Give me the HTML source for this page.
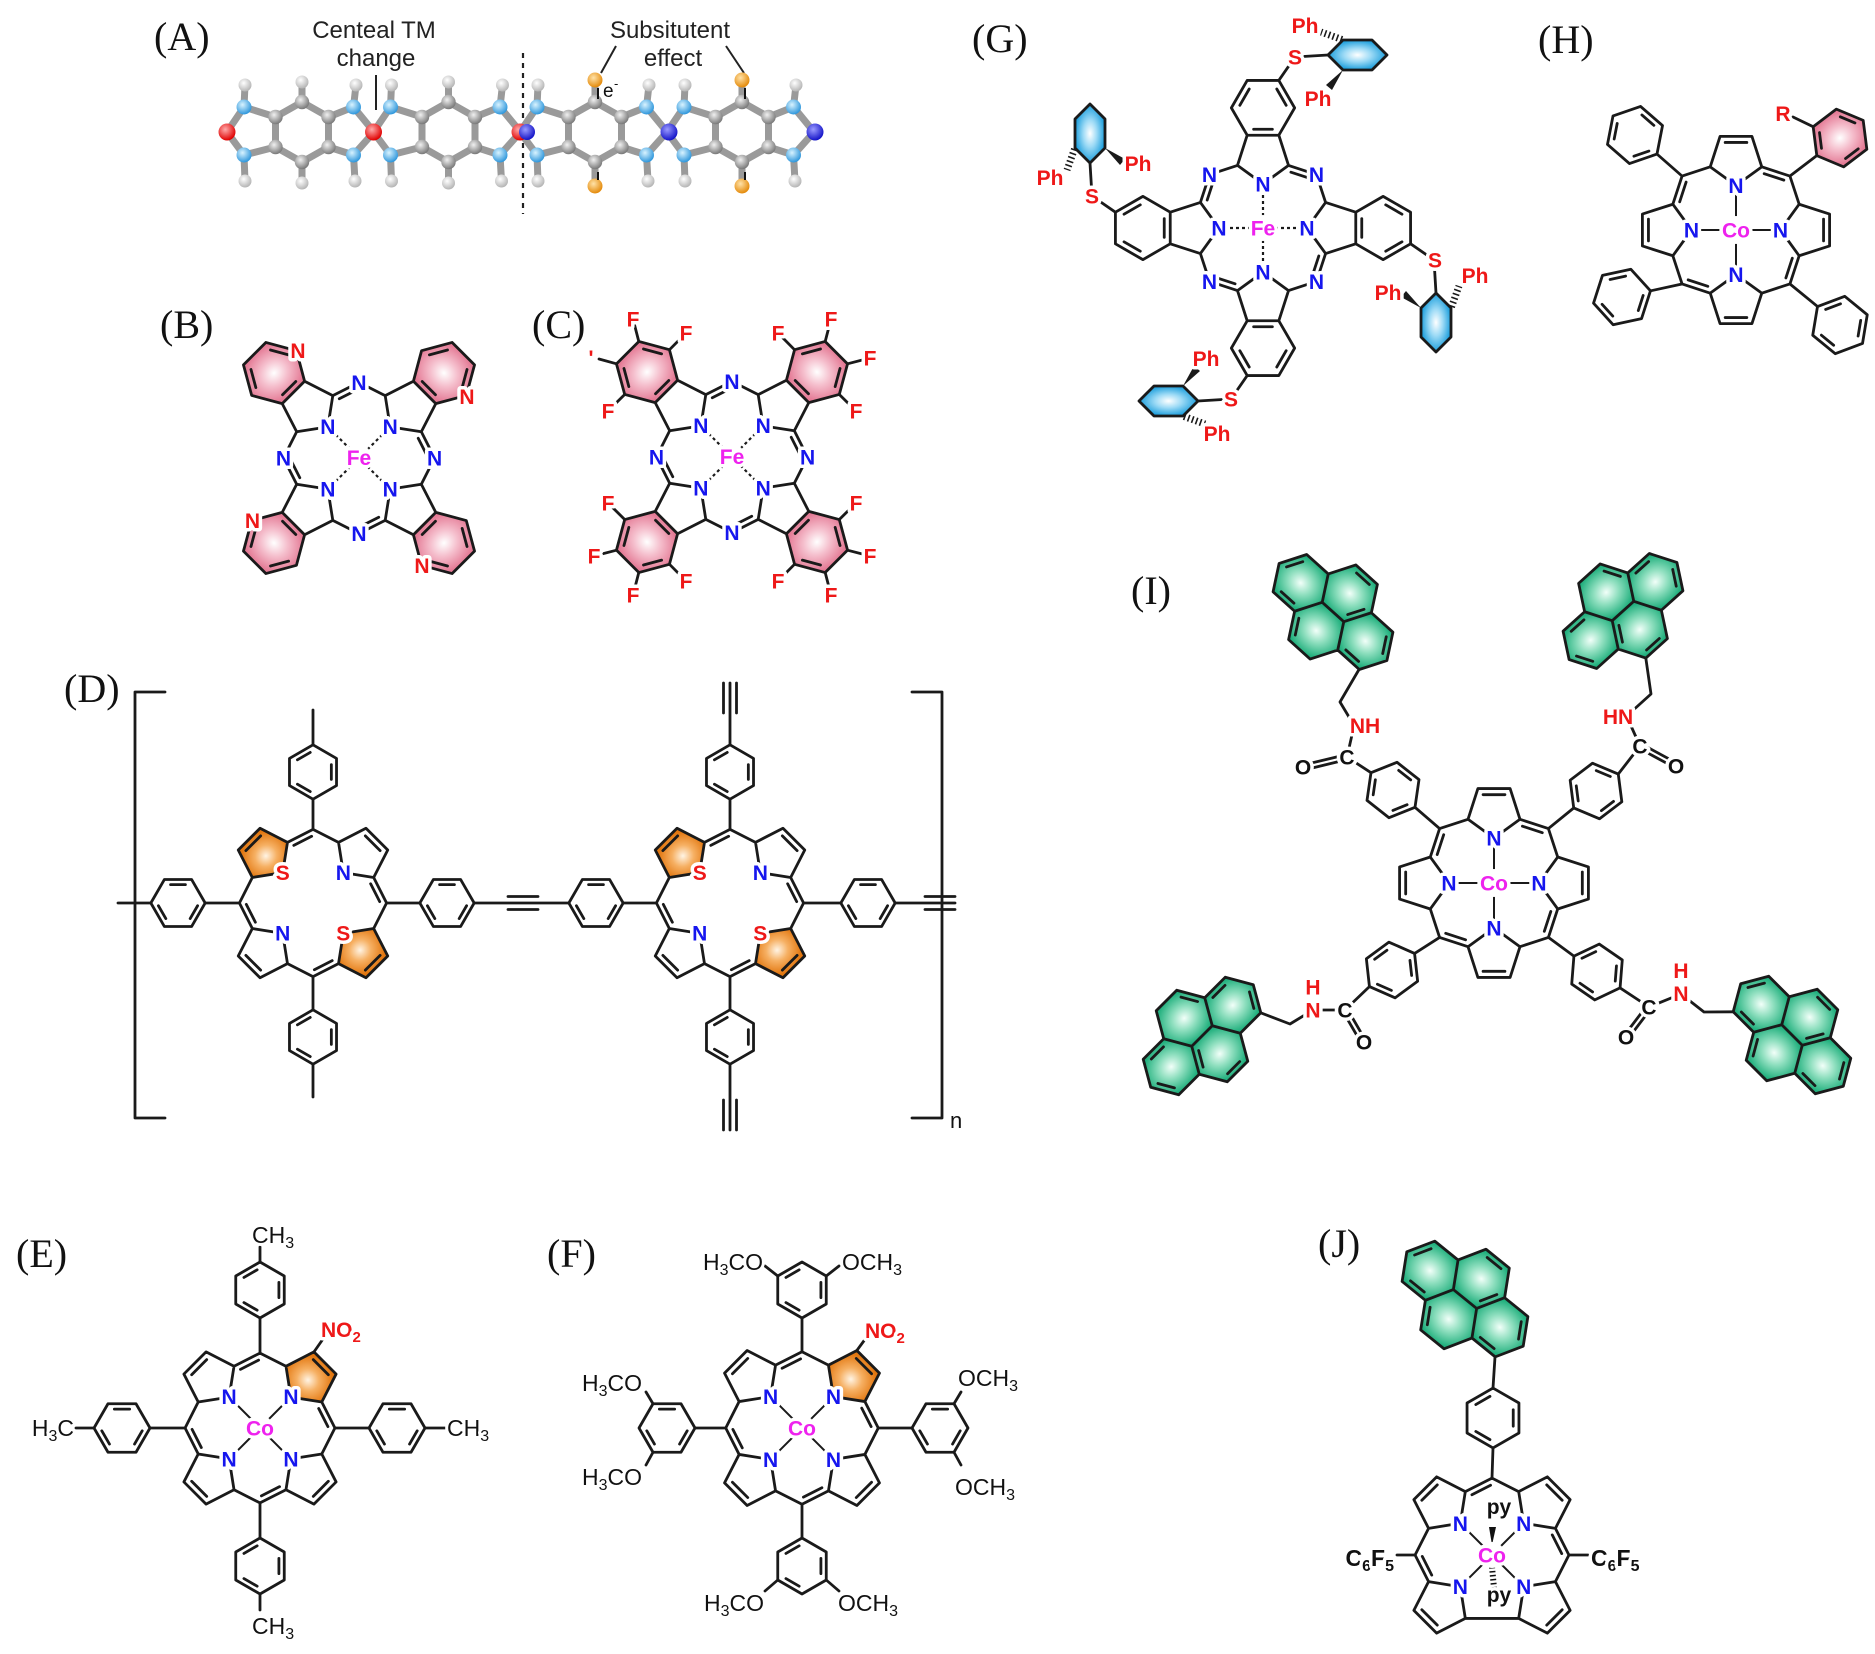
<!DOCTYPE html>
<html><head><meta charset="utf-8"><title>Molecular structures</title>
<style>
html,body{margin:0;padding:0;background:#fff}
svg{display:block}
.b{fill:none;stroke:#1a1a1a;stroke-width:2.8;stroke-linejoin:round;stroke-linecap:round;vector-effect:non-scaling-stroke}
.o{stroke:#1a1a1a;stroke-width:2.8;stroke-linejoin:round;vector-effect:non-scaling-stroke}
.b2{fill:none;stroke:#1a1a1a;stroke-width:2;stroke-linecap:round}
.ds{fill:none;stroke:#1a1a1a;stroke-width:2.2;stroke-dasharray:3 3}
.t{font-family:"Liberation Sans",Arial,sans-serif;font-weight:bold;font-size:21px;text-anchor:middle;paint-order:stroke;stroke:#fff;stroke-width:7px;stroke-linejoin:round}
.s{font-family:"Liberation Sans",Arial,sans-serif;font-size:23px;fill:#111;paint-order:stroke;stroke:#fff;stroke-width:6px;stroke-linejoin:round}
.sa{font-family:"Liberation Sans",Arial,sans-serif;font-size:24px;fill:#222;text-anchor:middle}
.lab{font-family:"Liberation Serif","Times New Roman",serif;font-size:40px;fill:#111}
.nb{fill:#1616ee}.mg{fill:#ee22ee}.rd{fill:#ee1818}.k{fill:#111}
.w{fill:#fff}
</style></head><body>
<svg xmlns="http://www.w3.org/2000/svg" width="1875" height="1654" viewBox="0 0 1875 1654">
<defs>
<radialGradient id="gPink"><stop offset="0" stop-color="#ffffff"/><stop offset="0.45" stop-color="#f5bfcd"/><stop offset="1" stop-color="#e47a95"/></radialGradient>
<radialGradient id="gBlue"><stop offset="0" stop-color="#ffffff"/><stop offset="0.45" stop-color="#9edbf6"/><stop offset="1" stop-color="#1c9edc"/></radialGradient>
<radialGradient id="gOr"><stop offset="0" stop-color="#fff4e4"/><stop offset="0.45" stop-color="#f6b063"/><stop offset="1" stop-color="#e27710"/></radialGradient>
<radialGradient id="gGr"><stop offset="0" stop-color="#f2fff9"/><stop offset="0.45" stop-color="#8fdfbf"/><stop offset="1" stop-color="#22b07e"/></radialGradient>
<radialGradient id="bC" cx="0.4" cy="0.35" r="0.65"><stop offset="0" stop-color="#f0f0f0"/><stop offset="1" stop-color="#7a7a7a"/></radialGradient>
<radialGradient id="bN" cx="0.4" cy="0.35" r="0.65"><stop offset="0" stop-color="#d8f3ff"/><stop offset="1" stop-color="#2f97dc"/></radialGradient>
<radialGradient id="bH" cx="0.4" cy="0.35" r="0.65"><stop offset="0" stop-color="#ffffff"/><stop offset="1" stop-color="#b5b5b5"/></radialGradient>
<radialGradient id="bO" cx="0.4" cy="0.35" r="0.65"><stop offset="0" stop-color="#ffaaaa"/><stop offset="1" stop-color="#e00000"/></radialGradient>
<radialGradient id="bX" cx="0.4" cy="0.35" r="0.65"><stop offset="0" stop-color="#9a9aff"/><stop offset="1" stop-color="#1414c8"/></radialGradient>
<radialGradient id="bOr" cx="0.4" cy="0.35" r="0.65"><stop offset="0" stop-color="#ffe2a8"/><stop offset="1" stop-color="#e48a0a"/></radialGradient>

<path id="por" class="b" d="M55.4,-22.6L82.1,-14L82.1,14L55.4,22.6L47.3,47.3L22.6,55.4L14,82.1L-14,82.1L-22.6,55.4L-47.3,47.3L-55.4,22.6L-82.1,14L-82.1,-14L-55.4,-22.6L-47.3,-47.3L-22.6,-55.4L-14,-82.1L14,-82.1L22.6,-55.4L47.3,-47.3Z M55.4,-22.6L39,0L55.4,22.6 M22.6,55.4L0,39L-22.6,55.4 M-55.4,22.6L-39,0L-55.4,-22.6 M-22.6,-55.4L0,-39L22.6,-55.4 M76.8,-9.5L76.8,9.5 M9.5,76.8L-9.5,76.8 M-76.8,9.5L-76.8,-9.5 M-9.5,-76.8L9.5,-76.8 M49.4,24.7L43.75,42 M-24.7,49.4L-42,43.75 M-49.4,-24.7L-43.75,-42 M24.7,-49.4L42,-43.75"/>

<path id="cor" class="b" d="M55.4,-22.6L82.1,-14L82.1,14L55.4,22.6L22.6,55.4L14,82.1L-14,82.1L-22.6,55.4L-47.3,47.3L-55.4,22.6L-82.1,14L-82.1,-14L-55.4,-22.6L-47.3,-47.3L-22.6,-55.4L-14,-82.1L14,-82.1L22.6,-55.4L47.3,-47.3Z M55.4,-22.6L39,0L55.4,22.6 M22.6,55.4L0,39L-22.6,55.4 M-55.4,22.6L-39,0L-55.4,-22.6 M-22.6,-55.4L0,-39L22.6,-55.4 M76.8,-9.5L76.8,9.5 M9.5,76.8L-9.5,76.8 M-76.8,9.5L-76.8,-9.5 M-9.5,-76.8L9.5,-76.8 M-24.7,49.4L-42,43.75 M-49.4,-24.7L-43.75,-42 M24.7,-49.4L42,-43.75"/>

<path id="pc" class="b" d="M55.4,-22.6L82.1,-14L82.1,14L55.4,22.6L47.3,47.3L22.6,55.4L14,82.1L-14,82.1L-22.6,55.4L-47.3,47.3L-55.4,22.6L-82.1,14L-82.1,-14L-55.4,-22.6L-47.3,-47.3L-22.6,-55.4L-14,-82.1L14,-82.1L22.6,-55.4L47.3,-47.3Z M55.4,-22.6L39,0L55.4,22.6 M22.6,55.4L0,39L-22.6,55.4 M-55.4,22.6L-39,0L-55.4,-22.6 M-22.6,-55.4L0,-39L22.6,-55.4 M49.4,24.7L43.75,42 M-24.7,49.4L-42,43.75 M-49.4,-24.7L-43.75,-42 M24.7,-49.4L42,-43.75 M82.1,14L106.3,28L130.6,14L130.6,-14L106.3,-28L82.1,-14 M108.6,20.5L123,12.2 M123,-12.2L108.6,-20.5 M87.4,8.3L87.4,-8.3 M-14,82.1L-28,106.3L-14,130.6L14,130.6L28,106.3L14,82.1 M-20.5,108.6L-12.2,123 M12.2,123L20.5,108.6 M-8.3,87.4L8.3,87.4 M-82.1,-14L-106.3,-28L-130.6,-14L-130.6,14L-106.3,28L-82.1,14 M-108.6,-20.5L-123,-12.2 M-123,12.2L-108.6,20.5 M-87.4,-8.3L-87.4,8.3 M14,-82.1L28,-106.3L14,-130.6L-14,-130.6L-28,-106.3L-14,-82.1 M20.5,-108.6L12.2,-123 M-12.2,-123L-20.5,-108.6 M8.3,-87.4L-8.3,-87.4"/>

<g id="pchex">
<polygon fill="url(#gPink)" points="82.1,14 106.3,28 130.6,14 130.6,-14 106.3,-28 82.1,-14"/>
<polygon fill="url(#gPink)" points="-14,82.1 -28,106.3 -14,130.6 14,130.6 28,106.3 14,82.1"/>
<polygon fill="url(#gPink)" points="-82.1,-14 -106.3,-28 -130.6,-14 -130.6,14 -106.3,28 -82.1,14"/>
<polygon fill="url(#gPink)" points="14,-82.1 28,-106.3 14,-130.6 -14,-130.6 -28,-106.3 -14,-82.1"/>
</g>

<path id="ph" class="b" d="M28,0L14,24.25L-14,24.25L-28,0L-14,-24.25L14,-24.25Z M20.2,2.84L12.56,16.07 M-12.56,16.07L-20.2,2.84 M-7.64,-18.91L7.64,-18.91"/>

<g id="pyr">
<polygon fill="url(#gGr)" points="-24.25,-28 0,-14 0,14 -24.25,28 -48.5,14 -48.5,-14"/>
<polygon fill="url(#gGr)" points="24.25,-28 48.5,-14 48.5,14 24.25,28 0,14 0,-14"/>
<polygon fill="url(#gGr)" points="0,-70 24.25,-56 24.25,-28 0,-14 -24.25,-28 -24.25,-56"/>
<polygon fill="url(#gGr)" points="0,14 24.25,28 24.25,56 0,70 -24.25,56 -24.25,28"/>
<path class="b" d="M0,-70L24.25,-56L24.25,-28L48.5,-14L48.5,14L24.25,28L24.25,56L0,70L-24.25,56L-24.25,28L-48.5,14L-48.5,-14L-24.25,-28L-24.25,-56Z M-24.25,-28L0,-14L24.25,-28 M0,-14L0,14 M-24.25,28L0,14L24.25,28 M2.3,-62.5L16.6,-54.2 M-18.9,-50.3L-18.9,-33.7 M43.2,-8.3L43.2,8.3 M16.6,54.2L2.3,62.5 M-18.9,33.7L-18.9,50.3 M-40.9,-12.2L-26.5,-20.5 M22,20.5L7.6,12.2"/>
</g>

<g id="gmot">
<path class="b" d="M15.8,-147.6L32,-171L65,-173"/>
<polygon fill="url(#gBlue)" class="o" points="65,-173 80,-188 109,-188 124,-173 109,-158 80,-158"/>
<path d="M79,-188.5L58,-196" stroke="#1a1a1a" stroke-width="7" stroke-dasharray="1.6 2.6" fill="none"/>
<polygon points="80,-158 63,-143 69,-138" fill="#1a1a1a"/>
</g>
</defs>

<rect x="0" y="0" width="1875" height="1654" fill="#fff"/>

<!-- ================= (A) ================= -->
<text class="lab" x="154" y="50">(A)</text>
<text class="sa" x="374" y="38">Centeal TM</text>
<text class="sa" x="376" y="66">change</text>
<text class="sa" x="670" y="38">Subsitutent</text>
<text class="sa" x="673" y="66">effect</text>
<path d="M376,75L376,110 M616,46L601,73 M726,46L744,73" stroke="#222" stroke-width="2" fill="none"/>
<path d="M523,53L523,214" stroke="#222" stroke-width="2.2" stroke-dasharray="5 5" fill="none"/>
<g fill="none" stroke-linecap="round" stroke-linejoin="round">
<path stroke="#9a9a9a" stroke-width="7" d="M227,132L244,107L275.5,117L302,102L328.5,117L353.5,107L374,132L353.5,155L328.5,147L302,162L275.5,147L244,155Z M275.5,117L275.5,147 M328.5,117L328.5,147 M244,107L245,85 M244,155L245,181 M302,102L302,82 M302,162L302,183 M353.5,107L356,85 M353.5,155L355,181 M373.5,132L390.5,107L422,117L448.5,102L475,117L500,107L520.5,132L500,155L475,147L448.5,162L422,147L390.5,155Z M422,117L422,147 M475,117L475,147 M390.5,107L391.5,85 M390.5,155L391.5,181 M448.5,102L448.5,82 M448.5,162L448.5,183 M500,107L502.5,85 M500,155L501.5,181 M520,132L537,107L568.5,117L595,102L621.5,117L646.5,107L667,132L646.5,155L621.5,147L595,162L568.5,147L537,155Z M568.5,117L568.5,147 M621.5,117L621.5,147 M537,107L538,85 M537,155L538,181 M595,102L595,80 M595,162L595,186 M646.5,107L649,85 M646.5,155L648,181 M667,132L684,107L715.5,117L742,102L768.5,117L793.5,107L814,132L793.5,155L768.5,147L742,162L715.5,147L684,155Z M715.5,117L715.5,147 M768.5,117L768.5,147 M684,107L685,85 M684,155L685,181 M742,102L742,80 M742,162L742,186 M793.5,107L796,85 M793.5,155L795,181"/>
</g>
<g>
<circle cx="227" cy="132" r="8.5" fill="url(#bO)"/>
<circle cx="373.5" cy="132" r="8.5" fill="url(#bO)"/>
<circle cx="520" cy="132" r="8.5" fill="url(#bO)"/>
<circle cx="527" cy="132" r="8" fill="url(#bX)"/>
<circle cx="669" cy="132" r="8.5" fill="url(#bX)"/>
<circle cx="815" cy="132" r="8.5" fill="url(#bX)"/>
<circle cx="244" cy="107" r="7.5" fill="url(#bN)"/><circle cx="244" cy="155" r="7.5" fill="url(#bN)"/><circle cx="353.5" cy="107" r="7.5" fill="url(#bN)"/><circle cx="353.5" cy="155" r="7.5" fill="url(#bN)"/>
<circle cx="390.5" cy="107" r="7.5" fill="url(#bN)"/><circle cx="390.5" cy="155" r="7.5" fill="url(#bN)"/><circle cx="500" cy="107" r="7.5" fill="url(#bN)"/><circle cx="500" cy="155" r="7.5" fill="url(#bN)"/>
<circle cx="537" cy="107" r="7.5" fill="url(#bN)"/><circle cx="537" cy="155" r="7.5" fill="url(#bN)"/><circle cx="646.5" cy="107" r="7.5" fill="url(#bN)"/><circle cx="646.5" cy="155" r="7.5" fill="url(#bN)"/>
<circle cx="684" cy="107" r="7.5" fill="url(#bN)"/><circle cx="684" cy="155" r="7.5" fill="url(#bN)"/><circle cx="793.5" cy="107" r="7.5" fill="url(#bN)"/><circle cx="793.5" cy="155" r="7.5" fill="url(#bN)"/>
<circle cx="275.5" cy="117" r="7.2" fill="url(#bC)"/><circle cx="275.5" cy="147" r="7.2" fill="url(#bC)"/><circle cx="302" cy="102" r="7.2" fill="url(#bC)"/><circle cx="302" cy="162" r="7.2" fill="url(#bC)"/><circle cx="328.5" cy="117" r="7.2" fill="url(#bC)"/><circle cx="328.5" cy="147" r="7.2" fill="url(#bC)"/>
<circle cx="422" cy="117" r="7.2" fill="url(#bC)"/><circle cx="422" cy="147" r="7.2" fill="url(#bC)"/><circle cx="448.5" cy="102" r="7.2" fill="url(#bC)"/><circle cx="448.5" cy="162" r="7.2" fill="url(#bC)"/><circle cx="475" cy="117" r="7.2" fill="url(#bC)"/><circle cx="475" cy="147" r="7.2" fill="url(#bC)"/>
<circle cx="568.5" cy="117" r="7.2" fill="url(#bC)"/><circle cx="568.5" cy="147" r="7.2" fill="url(#bC)"/><circle cx="595" cy="102" r="7.2" fill="url(#bC)"/><circle cx="595" cy="162" r="7.2" fill="url(#bC)"/><circle cx="621.5" cy="117" r="7.2" fill="url(#bC)"/><circle cx="621.5" cy="147" r="7.2" fill="url(#bC)"/>
<circle cx="715.5" cy="117" r="7.2" fill="url(#bC)"/><circle cx="715.5" cy="147" r="7.2" fill="url(#bC)"/><circle cx="742" cy="102" r="7.2" fill="url(#bC)"/><circle cx="742" cy="162" r="7.2" fill="url(#bC)"/><circle cx="768.5" cy="117" r="7.2" fill="url(#bC)"/><circle cx="768.5" cy="147" r="7.2" fill="url(#bC)"/>
<circle cx="245" cy="85" r="6.5" fill="url(#bH)"/><circle cx="245" cy="181" r="6.5" fill="url(#bH)"/><circle cx="302" cy="82" r="6.5" fill="url(#bH)"/><circle cx="302" cy="183" r="6.5" fill="url(#bH)"/><circle cx="356" cy="85" r="6.5" fill="url(#bH)"/><circle cx="355" cy="181" r="6.5" fill="url(#bH)"/>
<circle cx="391.5" cy="85" r="6.5" fill="url(#bH)"/><circle cx="391.5" cy="181" r="6.5" fill="url(#bH)"/><circle cx="448.5" cy="82" r="6.5" fill="url(#bH)"/><circle cx="448.5" cy="183" r="6.5" fill="url(#bH)"/><circle cx="502.5" cy="85" r="6.5" fill="url(#bH)"/><circle cx="501.5" cy="181" r="6.5" fill="url(#bH)"/>
<circle cx="538" cy="85" r="6.5" fill="url(#bH)"/><circle cx="538" cy="181" r="6.5" fill="url(#bH)"/><circle cx="649" cy="85" r="6.5" fill="url(#bH)"/><circle cx="648" cy="181" r="6.5" fill="url(#bH)"/>
<circle cx="685" cy="85" r="6.5" fill="url(#bH)"/><circle cx="685" cy="181" r="6.5" fill="url(#bH)"/><circle cx="796" cy="85" r="6.5" fill="url(#bH)"/><circle cx="795" cy="181" r="6.5" fill="url(#bH)"/>
<circle cx="595" cy="80" r="7.5" fill="url(#bOr)"/><circle cx="595" cy="186" r="7.5" fill="url(#bOr)"/><circle cx="742" cy="80" r="7.5" fill="url(#bOr)"/><circle cx="742" cy="186" r="7.5" fill="url(#bOr)"/>
</g>
<path d="M598,88L598,99 M598,172L598,180 M745,88L745,99 M745,172L745,180" stroke="#111" stroke-width="2" fill="none"/>
<text x="603" y="97" style="font-family:'Liberation Sans',Arial,sans-serif;font-size:19px;fill:#111">e</text>
<text x="614" y="88" style="font-family:'Liberation Sans',Arial,sans-serif;font-size:13px;fill:#111">-</text>

<!-- ================= (B) ================= -->
<text class="lab" x="160" y="338">(B)</text>
<g transform="translate(359,458) rotate(45) scale(1.13)"><use href="#pchex"/><use href="#pc"/></g>
<path class="ds" d="M359,458L327.8,426.8 M359,458L390.2,426.8 M359,458L327.8,489.2 M359,458L390.2,489.2"/>
<g>
<circle class="w" cx="327.8" cy="426.8" r="9"/><circle class="w" cx="390.2" cy="426.8" r="9"/><circle class="w" cx="327.8" cy="489.2" r="9"/><circle class="w" cx="390.2" cy="489.2" r="9"/>
<circle class="w" cx="359" cy="382.4" r="9"/><circle class="w" cx="283.4" cy="458" r="9"/><circle class="w" cx="434.6" cy="458" r="9"/><circle class="w" cx="359" cy="533.6" r="9"/>
<circle class="w" cx="359" cy="458" r="13"/>
<text class="t mg" x="359" y="465">Fe</text>
<text class="t nb" x="327.8" y="434">N</text><text class="t nb" x="390.2" y="434">N</text><text class="t nb" x="327.8" y="496.5">N</text><text class="t nb" x="390.2" y="496.5">N</text>
<text class="t nb" x="359" y="390">N</text><text class="t nb" x="283.4" y="465.5">N</text><text class="t nb" x="434.6" y="465.5">N</text><text class="t nb" x="359" y="541">N</text>
<text class="t rd" x="298" y="358">N</text><text class="t rd" x="467" y="404">N</text><text class="t rd" x="252.5" y="528">N</text><text class="t rd" x="422" y="573">N</text>
</g>

<!-- ================= (C) ================= -->
<text class="lab" x="532" y="338">(C)</text>
<g transform="translate(732,457) rotate(45) scale(1.13)"><use href="#pchex"/><use href="#pc"/></g>
<g transform="translate(732,457)">
<path class="b" d="M62.6,107.2L46,124 M93.2,115.5L99,138 M115.5,93.2L138,99 M107.2,62.6L124,46 M-107.2,62.6L-124,46 M-115.5,93.2L-138,99 M-93.2,115.5L-99,138 M-62.6,107.2L-46,124 M-62.6,-107.2L-46,-124 M-93.2,-115.5L-99,-138 M-115.5,-93.2L-133,-98 M-107.2,-62.6L-124,-46 M107.2,-62.6L124,-46 M115.5,-93.2L138,-99 M93.2,-115.5L99,-138 M62.6,-107.2L46,-124"/>
<path class="ds" d="M0,0L-31.2,-31.2 M0,0L31.2,-31.2 M0,0L-31.2,31.2 M0,0L31.2,31.2"/>
<circle class="w" cx="-31.2" cy="-31.2" r="9"/><circle class="w" cx="31.2" cy="-31.2" r="9"/><circle class="w" cx="-31.2" cy="31.2" r="9"/><circle class="w" cx="31.2" cy="31.2" r="9"/>
<circle class="w" cx="0" cy="-75.6" r="9"/><circle class="w" cx="-75.6" cy="0" r="9"/><circle class="w" cx="75.6" cy="0" r="9"/><circle class="w" cx="0" cy="75.6" r="9"/>
<circle class="w" cx="0" cy="0" r="13"/>
<text class="t mg" x="0" y="7">Fe</text>
<text class="t nb" x="-31.2" y="-24">N</text><text class="t nb" x="31.2" y="-24">N</text><text class="t nb" x="-31.2" y="38.5">N</text><text class="t nb" x="31.2" y="38.5">N</text>
<text class="t nb" x="0" y="-68">N</text><text class="t nb" x="-75.6" y="7.5">N</text><text class="t nb" x="75.6" y="7.5">N</text><text class="t nb" x="0" y="83">N</text>
<text class="t rd" x="46" y="131.5">F</text><text class="t rd" x="99" y="145.5">F</text><text class="t rd" x="138" y="106.5">F</text><text class="t rd" x="124" y="53.5">F</text>
<text class="t rd" x="-124" y="53.5">F</text><text class="t rd" x="-138" y="106.5">F</text><text class="t rd" x="-99" y="145.5">F</text><text class="t rd" x="-46" y="131.5">F</text>
<text class="t rd" x="-46" y="-116.5">F</text><text class="t rd" x="-99" y="-130.5">F</text><text class="t rd" x="-141" y="-92">'</text><text class="t rd" x="-124" y="-38.5">F</text>
<text class="t rd" x="124" y="-38.5">F</text><text class="t rd" x="138" y="-91.5">F</text><text class="t rd" x="99" y="-130.5">F</text><text class="t rd" x="46" y="-116.5">F</text>
</g>

<!-- ================= (D) ================= -->
<text class="lab" x="64" y="702">(D)</text>
<g transform="translate(313,903) rotate(45) scale(1.1)">
<polygon fill="url(#gOr)" points="-39,0 -55.4,-22.6 -82.1,-14 -82.1,14 -55.4,22.6"/>
<polygon fill="url(#gOr)" points="39,0 55.4,22.6 82.1,14 82.1,-14 55.4,-22.6"/>
<use href="#por"/></g>
<g transform="translate(730,903) rotate(45) scale(1.1)">
<polygon fill="url(#gOr)" points="-39,0 -55.4,-22.6 -82.1,-14 -82.1,14 -55.4,22.6"/>
<polygon fill="url(#gOr)" points="39,0 55.4,22.6 82.1,14 82.1,-14 55.4,-22.6"/>
<use href="#por"/></g>
<use href="#ph" transform="translate(178,903) scale(0.97)"/>
<use href="#ph" transform="translate(447,903) scale(0.97)"/>
<use href="#ph" transform="translate(313,772) rotate(90) scale(0.97)"/>
<use href="#ph" transform="translate(313,1037) rotate(90) scale(0.97)"/>
<use href="#ph" transform="translate(596,903) scale(0.97)"/>
<use href="#ph" transform="translate(868,903) scale(0.97)"/>
<use href="#ph" transform="translate(730,772) rotate(90) scale(0.97)"/>
<use href="#ph" transform="translate(730,1037) rotate(90) scale(0.97)"/>
<path class="b" d="M118,903L151,903 M205,903L239.4,903 M386.6,903L420,903 M474,903L538,903 M508,896.5L538,896.5 M508,909.5L538,909.5 M538,903L569,903 M623,903L656.4,903 M803.6,903L841,903 M895,903L955,903 M925,896.5L955,896.5 M925,909.5L955,909.5 M313,829.4L313,799 M313,745L313,710 M313,976.6L313,1010 M313,1064L313,1097 M730,829.4L730,799 M730,745L730,683 M723.5,713L723.5,683 M736.5,713L736.5,683 M730,976.6L730,1010 M730,1064L730,1130 M723.5,1100L723.5,1130 M736.5,1100L736.5,1130 M165,692L135,692L135,1118L165,1118 M912,692L942,692L942,1118L912,1118"/>
<text x="950" y="1128" style="font-family:'Liberation Sans',Arial,sans-serif;font-size:22px;fill:#111">n</text>
<g>
<circle class="w" cx="282.7" cy="872.7" r="8"/><circle class="w" cx="343.3" cy="933.3" r="8"/><circle class="w" cx="343.3" cy="872.7" r="8"/><circle class="w" cx="282.7" cy="933.3" r="8"/>
<circle class="w" cx="699.7" cy="872.7" r="8"/><circle class="w" cx="760.3" cy="933.3" r="8"/><circle class="w" cx="760.3" cy="872.7" r="8"/><circle class="w" cx="699.7" cy="933.3" r="8"/>
<text class="t rd" x="282.7" y="880">S</text><text class="t rd" x="343.3" y="940.5">S</text><text class="t nb" x="343.3" y="880">N</text><text class="t nb" x="282.7" y="940.5">N</text>
<text class="t rd" x="699.7" y="880">S</text><text class="t rd" x="760.3" y="940.5">S</text><text class="t nb" x="760.3" y="880">N</text><text class="t nb" x="699.7" y="940.5">N</text>
</g>

<!-- ================= (E) ================= -->
<text class="lab" x="16" y="1267">(E)</text>
<g transform="translate(260,1428) rotate(45) scale(1.12)">
<polygon fill="url(#gOr)" points="0,-39 22.6,-55.4 14,-82.1 -14,-82.1 -22.6,-55.4"/>
<use href="#por"/></g>
<use href="#ph" transform="translate(260,1290) rotate(90)"/>
<use href="#ph" transform="translate(260,1566) rotate(90)"/>
<use href="#ph" transform="translate(122,1428)"/>
<use href="#ph" transform="translate(397,1428)"/>
<path class="b" d="M260,1353L260,1318 M260,1262L260,1247 M260,1503L260,1538 M260,1594L260,1610 M185,1428L150,1428 M94,1428L76,1428 M335,1428L369,1428 M425,1428L445,1428 M313.9,1352L323,1339"/>
<path class="b2" d="M229.1,1396.9L290.9,1459.1 M290.9,1396.9L229.1,1459.1"/>
<g>
<circle class="w" cx="229.1" cy="1396.9" r="9"/><circle class="w" cx="290.9" cy="1396.9" r="9"/><circle class="w" cx="229.1" cy="1459.1" r="9"/><circle class="w" cx="290.9" cy="1459.1" r="9"/><circle class="w" cx="260" cy="1428" r="13"/>
<text class="t nb" x="229.1" y="1404">N</text><text class="t nb" x="290.9" y="1404">N</text><text class="t nb" x="229.1" y="1466.5">N</text><text class="t nb" x="290.9" y="1466.5">N</text>
<text class="t mg" x="260" y="1435.5">Co</text>
<text class="t rd" x="321" y="1337" style="text-anchor:start">NO<tspan font-size="15" dy="5">2</tspan></text>
<text class="s" x="252" y="1243">CH<tspan font-size="16" dy="5">3</tspan></text>
<text class="s" x="252" y="1634">CH<tspan font-size="16" dy="5">3</tspan></text>
<text class="s" x="74" y="1436" text-anchor="end">H<tspan font-size="16" dy="5">3</tspan><tspan dy="-5">C</tspan></text>
<text class="s" x="447" y="1436">CH<tspan font-size="16" dy="5">3</tspan></text>
</g>

<!-- ================= (F) ================= -->
<text class="lab" x="547" y="1267">(F)</text>
<g transform="translate(802,1428) rotate(45) scale(1.14)">
<polygon fill="url(#gOr)" points="0,-39 22.6,-55.4 14,-82.1 -14,-82.1 -22.6,-55.4"/>
<use href="#por"/></g>
<use href="#ph" transform="translate(802,1290) rotate(90)"/>
<use href="#ph" transform="translate(802,1566) rotate(90)"/>
<use href="#ph" transform="translate(667,1428)"/>
<use href="#ph" transform="translate(940,1428)"/>
<path class="b" d="M802,1351.7L802,1318 M802,1504.3L802,1538 M725.7,1428L695,1428 M878.3,1428L912,1428 M777.75,1276L765,1266 M826.25,1276L839,1266 M653,1403.75L646,1392 M653,1452.25L646,1465 M954,1403.75L961,1392 M954,1452.25L961,1465 M777.75,1580L765,1591 M826.25,1580L839,1591 M856.8,1350.6L866,1338"/>
<path class="b2" d="M770.6,1396.6L833.4,1459.4 M833.4,1396.6L770.6,1459.4"/>
<g>
<circle class="w" cx="770.6" cy="1396.6" r="9"/><circle class="w" cx="833.4" cy="1396.6" r="9"/><circle class="w" cx="770.6" cy="1459.4" r="9"/><circle class="w" cx="833.4" cy="1459.4" r="9"/><circle class="w" cx="802" cy="1428" r="13"/>
<text class="t nb" x="770.6" y="1404">N</text><text class="t nb" x="833.4" y="1404">N</text><text class="t nb" x="770.6" y="1467">N</text><text class="t nb" x="833.4" y="1467">N</text>
<text class="t mg" x="802" y="1435.5">Co</text>
<text class="t rd" x="865" y="1338" style="text-anchor:start">NO<tspan font-size="15" dy="5">2</tspan></text>
<text class="s" x="763" y="1270" text-anchor="end">H<tspan font-size="16" dy="5">3</tspan><tspan dy="-5">CO</tspan></text>
<text class="s" x="842" y="1270">OCH<tspan font-size="16" dy="5">3</tspan></text>
<text class="s" x="642" y="1391" text-anchor="end">H<tspan font-size="16" dy="5">3</tspan><tspan dy="-5">CO</tspan></text>
<text class="s" x="642" y="1485" text-anchor="end">H<tspan font-size="16" dy="5">3</tspan><tspan dy="-5">CO</tspan></text>
<text class="s" x="958" y="1386">OCH<tspan font-size="16" dy="5">3</tspan></text>
<text class="s" x="955" y="1495">OCH<tspan font-size="16" dy="5">3</tspan></text>
<text class="s" x="764" y="1611" text-anchor="end">H<tspan font-size="16" dy="5">3</tspan><tspan dy="-5">CO</tspan></text>
<text class="s" x="838" y="1611">OCH<tspan font-size="16" dy="5">3</tspan></text>
</g>

<!-- ================= (G) ================= -->
<text class="lab" x="972" y="52">(G)</text>
<g transform="translate(1263,228) scale(1.13)"><use href="#pc"/></g>
<use href="#gmot" transform="translate(1263,228)"/>
<use href="#gmot" transform="translate(1263,228) rotate(90)"/>
<use href="#gmot" transform="translate(1263,228) rotate(180)"/>
<use href="#gmot" transform="translate(1263,228) rotate(-90)"/>
<path class="ds" d="M1263,228L1263,184 M1263,228L1219,228 M1263,228L1307,228 M1263,228L1263,272"/>
<g>
<circle class="w" cx="1263" cy="184" r="9"/><circle class="w" cx="1219" cy="228" r="9"/><circle class="w" cx="1307" cy="228" r="9"/><circle class="w" cx="1263" cy="272" r="9"/>
<circle class="w" cx="1209.5" cy="174.5" r="9"/><circle class="w" cx="1316.5" cy="174.5" r="9"/><circle class="w" cx="1209.5" cy="281.5" r="9"/><circle class="w" cx="1316.5" cy="281.5" r="9"/>
<circle class="w" cx="1263" cy="228" r="13"/>
<text class="t mg" x="1263" y="235.5">Fe</text>
<text class="t nb" x="1263" y="191.5">N</text><text class="t nb" x="1219" y="235.5">N</text><text class="t nb" x="1307" y="235.5">N</text><text class="t nb" x="1263" y="279.5">N</text>
<text class="t nb" x="1209.5" y="182">N</text><text class="t nb" x="1316.5" y="182">N</text><text class="t nb" x="1209.5" y="289">N</text><text class="t nb" x="1316.5" y="289">N</text>
<circle class="w" cx="1295" cy="57" r="8"/><circle class="w" cx="1435" cy="260" r="8"/><circle class="w" cx="1231" cy="399" r="8"/><circle class="w" cx="1092" cy="196" r="8"/>
<text class="t rd" x="1295" y="64.5">S</text><text class="t rd" x="1435" y="267.5">S</text><text class="t rd" x="1231" y="406.5">S</text><text class="t rd" x="1092" y="203.5">S</text>
<text class="t rd" x="1305" y="33">Ph</text><text class="t rd" x="1318" y="106">Ph</text>
<text class="t rd" x="1475" y="283">Ph</text><text class="t rd" x="1388" y="300">Ph</text>
<text class="t rd" x="1217" y="441">Ph</text><text class="t rd" x="1206" y="366">Ph</text>
<text class="t rd" x="1050" y="185">Ph</text><text class="t rd" x="1138" y="171">Ph</text>
</g>

<!-- ================= (H) ================= -->
<text class="lab" x="1538" y="53">(H)</text>
<use href="#por" transform="translate(1736,230) scale(1.14)"/>
<polygon fill="url(#gPink)" transform="translate(1840,138) rotate(142.8) scale(1.04)" points="28,0 14,24.25 -14,24.25 -28,0 -14,-24.25 14,-24.25"/>
<use href="#ph" transform="translate(1635,135) rotate(41) scale(1.04)"/>
<use href="#ph" transform="translate(1840,138) rotate(142.8) scale(1.04)"/>
<use href="#ph" transform="translate(1622,297) rotate(-12.2) scale(1.04)"/>
<use href="#ph" transform="translate(1840,325) rotate(-140.6) scale(1.04)"/>
<path class="b" d="M1682,176L1656.9,154 M1790,176L1816.9,155.5 M1682,284L1650.3,290.9 M1790,284L1817.6,306.6 M1813.3,126.8L1793,117"/>
<path class="b2" d="M1736,186L1736,274 M1692,230L1780,230"/>
<g>
<circle class="w" cx="1736" cy="185.5" r="9"/><circle class="w" cx="1691.5" cy="230" r="9"/><circle class="w" cx="1780.5" cy="230" r="9"/><circle class="w" cx="1736" cy="274.5" r="9"/><circle class="w" cx="1736" cy="230" r="14"/>
<text class="t nb" x="1736" y="193">N</text><text class="t nb" x="1691.5" y="237.5">N</text><text class="t nb" x="1780.5" y="237.5">N</text><text class="t nb" x="1736" y="282">N</text>
<text class="t mg" x="1736" y="237.5">Co</text>
<text class="t rd" x="1783" y="121">R</text>
</g>

<!-- ================= (I) ================= -->
<text class="lab" x="1131" y="604">(I)</text>
<use href="#por" transform="translate(1494,883) scale(1.15)"/>
<use href="#ph" transform="translate(1393,790) rotate(38.2)"/>
<use href="#ph" transform="translate(1596,791) rotate(142.7)"/>
<use href="#ph" transform="translate(1392,970) rotate(-36.3)"/>
<use href="#ph" transform="translate(1597,972) rotate(-145.5)"/>
<use href="#pyr" transform="translate(1333,612) rotate(-48) scale(1.036)"/>
<use href="#pyr" transform="translate(1623,611) rotate(48) scale(1.036)"/>
<use href="#pyr" transform="translate(1202,1036) rotate(45) scale(1.036)"/>
<use href="#pyr" transform="translate(1792,1035) rotate(-45) scale(1.036)"/>
<path class="b" d="M1439.6,828.6L1415,807.3 M1548.4,828.6L1573.7,808 M1439.6,937.4L1414.6,953.4 M1548.4,937.4L1573.9,956.1
M1371,772.7L1347,757 M1347,757L1354,726 M1352,722L1340,702L1359,669.5
M1618.3,774L1640,746 M1640,746L1627,717 M1630,713L1651,694L1645.8,658
M1369.4,986.6L1345,1010 M1345,1010L1313,1010 M1313,1010L1290,1024L1260.7,1012.8
M1620.1,987.9L1649,1007 M1649,1007L1681,994 M1681,994L1704,1012L1733.3,1011.8"/>
<path class="b" d="M1347.6,759.4L1304,770 M1346.4,754.6L1302.4,765.2 M1638.9,748.2L1674,767.2 M1641.1,743.8L1676.2,762.8 M1342.8,1011.2L1360.8,1042.2 M1347.2,1008.8L1365.2,1039.8 M1651,1008.5L1629,1037.5 M1647,1005.5L1625,1034.5"/>
<path class="b2" d="M1494,838L1494,928 M1449,883L1539,883"/>
<g>
<circle class="w" cx="1494" cy="838" r="9"/><circle class="w" cx="1449" cy="883" r="9"/><circle class="w" cx="1539" cy="883" r="9"/><circle class="w" cx="1494" cy="928" r="9"/><circle class="w" cx="1494" cy="883" r="14"/>
<text class="t nb" x="1494" y="845.5">N</text><text class="t nb" x="1449" y="890.5">N</text><text class="t nb" x="1539" y="890.5">N</text><text class="t nb" x="1494" y="935.5">N</text>
<text class="t mg" x="1494" y="890.5">Co</text>
<circle class="w" cx="1347" cy="757" r="8"/><circle class="w" cx="1303" cy="767" r="9"/>
<circle class="w" cx="1640" cy="746" r="8"/><circle class="w" cx="1676" cy="766" r="9"/>
<circle class="w" cx="1345" cy="1010" r="8"/><circle class="w" cx="1364" cy="1042" r="9"/>
<circle class="w" cx="1649" cy="1007" r="8"/><circle class="w" cx="1626" cy="1037" r="9"/>
<text class="t k" x="1347" y="764.5">C</text><text class="t k" x="1303" y="774.5">O</text>
<text class="t rd" x="1365" y="733">NH</text>
<text class="t k" x="1640" y="753.5">C</text><text class="t k" x="1676" y="773.5">O</text>
<text class="t rd" x="1618" y="724">HN</text>
<text class="t k" x="1345" y="1017.5">C</text><text class="t k" x="1364" y="1049.5">O</text>
<text class="t rd" x="1313" y="994.5">H</text><text class="t rd" x="1313" y="1017.5">N</text>
<text class="t k" x="1649" y="1014.5">C</text><text class="t k" x="1626" y="1044.5">O</text>
<text class="t rd" x="1681" y="978">H</text><text class="t rd" x="1681" y="1001">N</text>
</g>

<!-- ================= (J) ================= -->
<text class="lab" x="1318" y="1257">(J)</text>
<use href="#pyr" transform="translate(1465,1299) rotate(-51) scale(1.07)"/>
<use href="#ph" transform="translate(1493,1418) rotate(90) scale(1.07)"/>
<use href="#cor" transform="translate(1492,1555) rotate(45) scale(1.15)"/>
<path class="b" d="M1492,1478L1493,1448 M1493,1388L1495,1357 M1415,1555L1397,1555 M1569,1555L1588,1555"/>
<path class="b2" d="M1492,1555L1460.3,1523.3 M1492,1555L1523.7,1523.3 M1492,1555L1460.3,1586.7 M1492,1555L1523.7,1586.7"/>
<polygon points="1492,1545 1489,1527 1496,1527" fill="#111"/>
<path d="M1492,1567L1494,1588" stroke="#111" stroke-width="6" stroke-dasharray="1.5 2.5" fill="none"/>
<g>
<circle class="w" cx="1460.3" cy="1523.3" r="9"/><circle class="w" cx="1523.7" cy="1523.3" r="9"/><circle class="w" cx="1460.3" cy="1586.7" r="9"/><circle class="w" cx="1523.7" cy="1586.7" r="9"/><circle class="w" cx="1492" cy="1555" r="13"/>
<text class="t nb" x="1460.3" y="1531">N</text><text class="t nb" x="1523.7" y="1531">N</text><text class="t nb" x="1460.3" y="1594">N</text><text class="t nb" x="1523.7" y="1594">N</text>
<text class="t mg" x="1492" y="1562.5">Co</text>
<text class="t k" x="1499" y="1514">py</text>
<text class="t k" x="1499" y="1602">py</text>
<text class="t k" x="1394" y="1566" style="text-anchor:end;font-size:23px">C<tspan font-size="16" dy="5">6</tspan><tspan dy="-5">F</tspan><tspan font-size="16" dy="5">5</tspan></text>
<text class="t k" x="1591" y="1566" style="text-anchor:start;font-size:23px">C<tspan font-size="16" dy="5">6</tspan><tspan dy="-5">F</tspan><tspan font-size="16" dy="5">5</tspan></text>
</g>
</svg>
</body></html>
